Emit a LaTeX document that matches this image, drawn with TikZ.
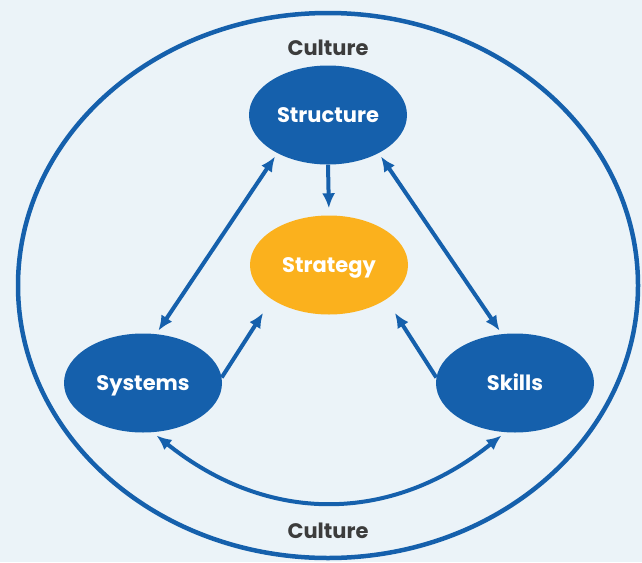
\documentclass[tikz,border=0pt]{standalone}
\usepackage{fontspec}
\setmainfont{Poppins}
\usetikzlibrary{arrows.meta,shapes.geometric,calc}
\definecolor{bgc}{HTML}{EBF3F8}
\definecolor{blu}{HTML}{1560AC}
\definecolor{org}{HTML}{FBB11D}
\definecolor{txt}{HTML}{3C3C3C}
\tikzset{
  elem/.style={ellipse, fill=blu, text=white, minimum width=158pt, minimum height=99pt, inner sep=0pt, text height=15pt, text depth=0pt, font=\bfseries\fontsize{21}{24}\selectfont},
  core/.style={elem, fill=org},
  lbl/.style={text=txt, text height=15pt, text depth=0pt, font=\bfseries\fontsize{21}{24}\selectfont},
  conn/.style={draw=blu, line width=4pt, -{Latex[length=15pt,width=13pt]}},
  biconn/.style={draw=blu, line width=4pt, {Latex[length=15pt,width=13pt]}-{Latex[length=15pt,width=13pt]}},
  outer/.style={draw=blu, line width=4.5pt}
}
\begin{document}
\begin{tikzpicture}[x=1pt,y=-1pt]
\fill[bgc] (0,0) rectangle (642,562);
\useasboundingbox (0,0) rectangle (642,562);
\draw[outer] (328,285.5) ellipse [x radius=310pt, y radius=272.5pt];
\node[lbl] (ctop) at (328,48) {Culture};
\node[lbl] (cbot) at (328,531) {Culture};
\node[elem] (structure) at (328,115) {Structure};
\node[core] (strategy) at (329,265) {Strategy};
\node[elem] (systems) at (143,383) {Systems};
\node[elem] (skills) at (515,383) {Skills};
\draw[conn, shorten >=7pt] (structure.south) -- (strategy.north);
\draw[biconn, shorten >=4pt, shorten <=4pt] (structure.217) -- (systems.75);
\draw[biconn, shorten >=4pt, shorten <=4pt] (structure.323) -- (skills.105);
\draw[conn, shorten >=16pt] (systems.4) -- (strategy.211);
\draw[conn, shorten >=16pt] (skills.176) -- (strategy.329);
\draw[biconn, shorten >=5pt, shorten <=5pt] (systems.281) .. controls +(115,92) and +(-115,92) .. (skills.259);
\end{tikzpicture}
\end{document}
